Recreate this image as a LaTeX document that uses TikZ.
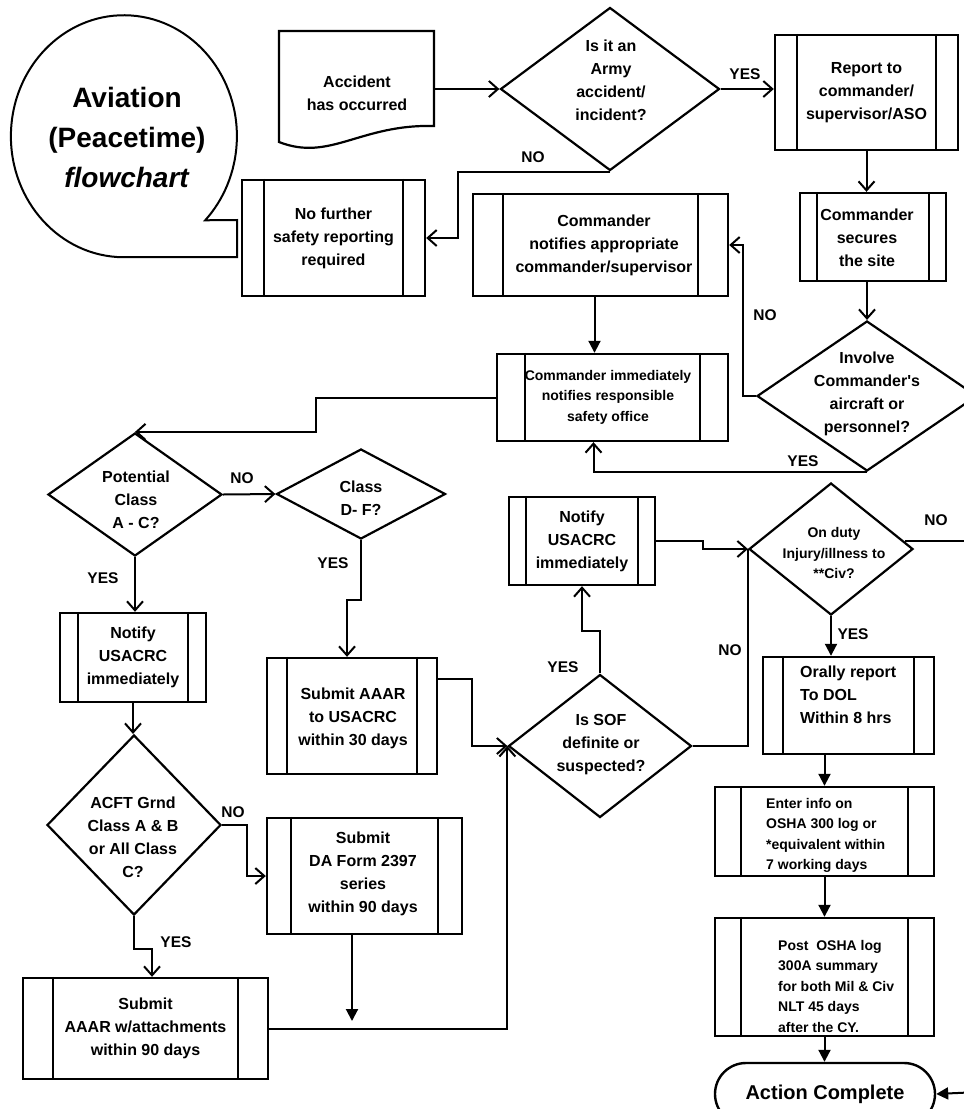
\documentclass[tikz,border=0pt]{standalone}
\usepackage{fontspec}
\setmainfont{Liberation Sans}
\usetikzlibrary{arrows.meta,shapes.geometric,calc}
\newcommand\pbox[7]{%
  \node[proc,minimum width=#4pt,minimum height=#5pt] (#1) at (#2,#3) {#7};
  \draw[procline] ([xshift=#6pt]#1.north west) -- ([xshift=#6pt]#1.south west);
  \draw[procline] ([xshift=-#6pt]#1.north east) -- ([xshift=-#6pt]#1.south east);}
\begin{document}
\begin{tikzpicture}[x=1pt,y=-1pt,
  conn/.style={line width=2pt},
  oarr/.style={conn,-{Straight Barb[length=9pt,width=16pt]}},
  farr/.style={conn,-{Triangle[length=12pt,width=12pt]}},
  proc/.style={draw,line width=2.4pt,inner sep=0pt,align=center,font=\fontsize{16}{23}\selectfont\bfseries},
  procline/.style={line width=2pt},
  dia/.style={draw,diamond,line width=2.2pt,inner sep=0pt},
  txt/.style={align=center,inner sep=0pt,font=\fontsize{16}{23}\selectfont\bfseries},
  stxt/.style={align=center,inner sep=0pt,font=\fontsize{14}{20.5}\selectfont\bfseries},
  lbl/.style={inner sep=0pt,font=\fontsize{15.5}{18}\selectfont\bfseries},
]
\useasboundingbox[fill=white] (0,0) rectangle (964,1109);

% title bubble
\draw[line width=2pt] (117,257) arc[start angle=93.5, end angle=404, x radius=113, y radius=121] -- (237,220) -- (237,257) -- cycle;
\node[align=center,inner sep=0pt,font=\fontsize{28}{40}\selectfont\bfseries] (title) at (127,137) {Aviation\\(Peacetime)\\\textit{flowchart}};

% document shape
\node[minimum width=155pt,minimum height=111pt,inner sep=0pt] (doc) at (356.5,86.5) {};
\draw[line width=2.2pt] (279,142) -- (279,31) -- (434,31) -- (434,126) .. controls (360,124) and (330,162) .. (279,142) -- cycle;
\node[txt] (doct) at (357,93) {Accident\\has occurred};

% diamonds
\node[dia,minimum width=219pt,minimum height=163pt] (army) at (610,89) {};
\node[txt] (armyt) at (611,80) {Is it an\\Army\\accident/\\incident?};
\node[dia,minimum width=220pt,minimum height=150pt] (inv) at (867,396) {};
\node[txt] (invt) at (867,393.5) {Involve\\Commander\textquotesingle s\\aircraft or\\personnel?};
\node[dia,minimum width=174pt,minimum height=123pt] (pot) at (135,494.5) {};
\node[txt] (pott) at (136,499.5) {Potential\\Class\\A - C?};
\node[dia,minimum width=169pt,minimum height=90pt] (cls) at (361,494) {};
\node[txt] (clst) at (361,498) {Class\\D- F?};
\node[dia,minimum width=174pt,minimum height=180pt] (acft) at (134,825) {};
\node[txt] (acftt) at (133,837.5) {ACFT Grnd\\Class A \& B\\or All\ Class\\C?};
\node[dia,minimum width=183pt,minimum height=143pt] (sof) at (600,746) {};
\node[txt] (soft) at (601,745) {Is SOF\\definite or\\suspected?};
\node[dia,minimum width=164pt,minimum height=132pt] (ond) at (831,549) {};
\node[stxt] (ondt) at (834,553) {On duty\\Injury/illness to\\**Civ?};

% process boxes
\pbox{rep}{866.5}{92.5}{183}{115}{23}{Report to\\commander/\\supervisor/ASO}
\pbox{sec}{873}{237}{146}{88}{18.5}{}
\node[txt] (sect) at (867,238) {Commander\\secures\\the site};
\pbox{nofur}{333.5}{238}{183}{116}{23}{No further\\safety reporting\\required}
\pbox{cnot}{600.5}{245}{255}{102}{31.5}{}
\node[txt] (cnott) at (604,245) {Commander\\notifies appropriate\\commander/supervisor};
\pbox{cimm}{612.5}{397.5}{231}{87}{29}{}
\node[stxt] (cimmt) at (608,397) {Commander immediately\\notifies responsible\\safety office};
\pbox{nusa}{133}{657.5}{146}{89}{19}{Notify\\USACRC\\immediately}
\pbox{sthirty}{352}{716}{170}{116}{21}{}
\node[txt] (sthirtyt) at (353,718) {Submit AAAR\\to USACRC\\within 30 days};
\pbox{da}{364.5}{876}{195}{116}{25}{}
\node[txt] (dat) at (363,874) {Submit\\DA Form 2397\\series\\within 90 days};
\pbox{aaar}{145.5}{1028.5}{245}{101}{31}{Submit\\AAAR w/attachments\\within 90 days}
\pbox{nusb}{582}{541}{146}{88}{18.5}{Notify\\USACRC\\immediately}
\pbox{oral}{848.5}{705.5}{171}{97}{21}{}
\node[txt,align=left,anchor=west] (oralt) at (800,695) {Orally report\\To DOL\\Within 8 hrs};
\pbox{enter}{824.5}{831.5}{219}{89}{27.5}{}
\node[stxt,align=left,anchor=west] (entert) at (766,835.5) {Enter info on\\OSHA 300 log or\\*equivalent within\\7 working days};
\pbox{post}{824.5}{977}{219}{118}{27.5}{}
\node[stxt,align=left,anchor=west] (postt) at (778,986) {Post\ \ OSHA log\\300A summary\\for both Mil \& Civ\\NLT 45 days\\after the CY.};

% terminal
\node[draw,line width=2.4pt,rounded corners=31pt,minimum width=220pt,minimum height=62pt,inner sep=0pt,font=\fontsize{20}{24}\selectfont\bfseries] (act) at (825,1094) {Action Complete};

% free ends
\coordinate (offa) at (1000,541);
\coordinate (offb) at (1000,1091);
\coordinate (dadown) at (352,1021);

% connectors
\draw[oarr] (army.west -| doc.east) -- (army.west);
\draw[oarr] (army.east) -- (army.east -| rep.west);
\draw[oarr] (army.south) -| ([xshift=32pt]nofur.east) -- (nofur.east);
\draw[oarr] (rep.south) -- (rep.south |- sec.north);
\draw[oarr] (sec.south -| inv.north) -- (inv.north);
\draw[oarr] (inv.west) -| ([xshift=14pt]cnot.east) -- (cnot.east);
\draw[farr] ([xshift=-6pt]cnot.south) -- ([xshift=-6pt]cnot.south |- cimm.north);
\draw[oarr] (inv.south) -| ([xshift=-19pt]cimm.south);
\draw[oarr] (cimm.west) -| ([xshift=181pt]pot.north) -- (pot.north);
\draw[oarr] (pot.east) -- (cls.west);
\draw[oarr] (pot.south) -- (pot.south |- nusa.north);
\draw[oarr] (cls.south) -- ++(0,60) -| ([xshift=-5pt]sthirty.north);
\draw[oarr] (nusa.south) -- (nusa.south |- acft.north);
\draw[oarr] (acft.east) -- ++(25,0) |- (da.west);
\draw[oarr] (acft.south) -- ++(0,33) -| ([xshift=6.5pt]aaar.north);
\draw[farr] ([xshift=-12.5pt]da.south) -- (dadown);
\draw[oarr] (aaar.east) -| (sof.west);
\draw[oarr] ([yshift=37pt]sthirty.east) -- ++(34,0) |- (sof.west);
\draw[oarr] (sof.north) -- ++(0,-42) -| (nusb.south);
\draw[oarr] (nusb.east) -- ++(47,0) |- (ond.west);
\draw[conn] (sof.east) -| (ond.west);
\draw[conn] ([xshift=-9pt,yshift=8pt]ond.east) -- (offa);
\draw[farr] (offb) -- (act.east);
\draw[farr] (ond.south) -- (ond.south |- oral.north);
\draw[farr] (enter.north |- oral.south) -- (enter.north);
\draw[farr] (enter.south) -- (enter.south |- post.north);
\draw[farr] (post.south) -- (post.south |- act.north);

% labels
\node[lbl] (l1) at (745,74) {YES};
\node[lbl] (l2) at (533,157) {NO};
\node[lbl] (l3) at (765,315) {NO};
\node[lbl] (l4) at (803,461) {YES};
\node[lbl] (l5) at (242,478) {NO};
\node[lbl] (l6) at (103,578) {YES};
\node[lbl] (l7) at (333,563) {YES};
\node[lbl] (l8) at (233,812) {NO};
\node[lbl] (l9) at (176,942) {YES};
\node[lbl] (l10) at (563,667) {YES};
\node[lbl] (l11) at (730,650) {NO};
\node[lbl] (l12) at (936,520) {NO};
\node[lbl] (l13) at (853,634) {YES};
\end{tikzpicture}
\end{document}
